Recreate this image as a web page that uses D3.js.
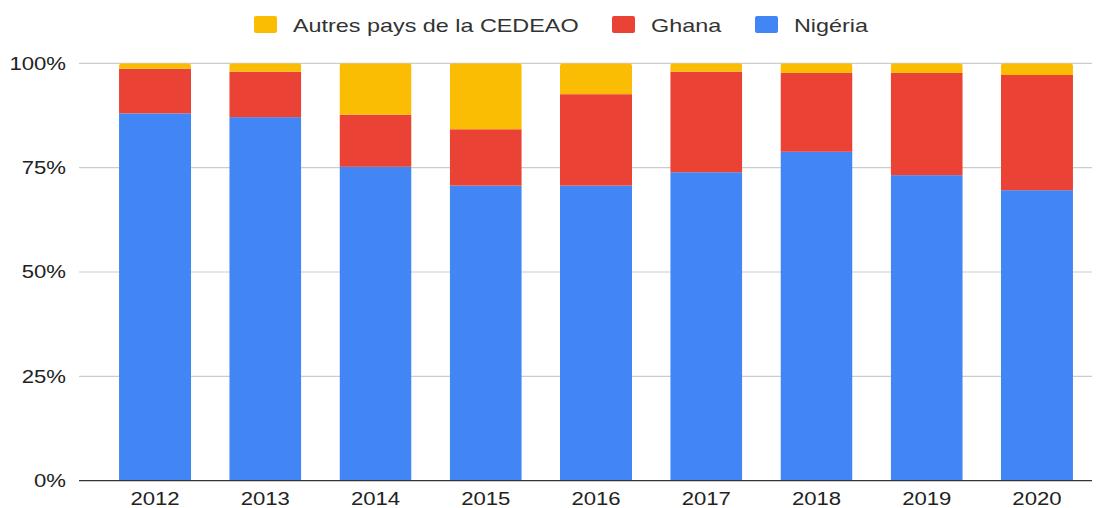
<!DOCTYPE html>
<html><head><meta charset="utf-8">
<script src="https://cdn.jsdelivr.net/npm/d3@7"></script>
<style>body{margin:0;background:#fff}svg{display:block}</style>
</head><body>
<svg id="c" width="1098" height="508"></svg>
<script>
const years = ["2012","2013","2014","2015","2016","2017","2018","2019","2020"];
const nigeria = [88.0, 87.1, 75.2, 70.7, 70.7, 73.9, 78.8, 73.2, 69.6];
const ghana   = [10.7, 10.9, 12.5, 13.5, 21.9, 24.1, 18.9, 24.5, 27.6];
const autres  = [1.3, 2.0, 12.3, 15.8, 7.4, 2.0, 2.3, 2.3, 2.8];
const seriesNames = ["Nigéria", "Ghana", "Autres pays de la CEDEAO"];
const legendOrder = ["Autres pays de la CEDEAO", "Ghana", "Nigéria"];
const colors = {"Nigéria":"#4285f4","Ghana":"#ea4335","Autres pays de la CEDEAO":"#fbbc04"};
const yTicks = [0, 0.25, 0.5, 0.75, 1];

const SX = 1.23;
const svg = d3.select("#c");
const font = "'Liberation Sans', Arial, sans-serif";

const x = d3.scaleBand().domain(years).range([99.9, 1092.1]).paddingInner(0.347).paddingOuter(0.1735);
const y = d3.scaleLinear().domain([0, 1]).range([480.7, 63.3]);

// gridlines
svg.append("g").selectAll("line").data(yTicks.filter(d => d > 0)).join("line")
  .attr("x1", 79).attr("x2", 1092)
  .attr("y1", d => y(d)).attr("y2", d => y(d))
  .attr("stroke", "#cccccc").attr("stroke-width", 1.2);

// y labels
svg.append("g").selectAll("text").data(yTicks).join("text")
  .attr("transform", d => `translate(66,${y(d)}) scale(${SX},1)`)
  .attr("text-anchor", "end").attr("dy", "0.35em")
  .attr("font-family", font).attr("font-size", 18).attr("fill", "#222")
  .text(d => d3.format(".0%")(d));

// stack
const rows = years.map((yr, i) => ({year: yr, "Nigéria": nigeria[i]/100, "Ghana": ghana[i]/100, "Autres pays de la CEDEAO": autres[i]/100}));
const stack = d3.stack().keys(seriesNames)(rows);

const defs = svg.append("defs");
years.forEach((yr, i) => {
  const total = nigeria[i] + ghana[i] + autres[i];
  defs.append("clipPath").attr("id", "clip" + i)
    .append("rect")
    .attr("x", x(yr)).attr("width", x.bandwidth())
    .attr("y", y(total/100)).attr("height", y(0) - y(total/100) + 10)
    .attr("rx", 3).attr("ry", 3);
});

stack.forEach(s => {
  svg.append("g").selectAll("rect").data(s).join("rect")
    .attr("clip-path", (d, i) => `url(#clip${i})`)
    .attr("x", d => x(d.data.year)).attr("width", x.bandwidth())
    .attr("y", d => y(d[1])).attr("height", d => y(d[0]) - y(d[1]))
    .attr("fill", colors[s.key]);
});

// baseline
svg.append("line").attr("x1", 79).attr("x2", 1092).attr("y1", y(0)).attr("y2", y(0))
  .attr("stroke", "#333").attr("stroke-width", 1.3);

// x labels
svg.append("g").selectAll("text").data(years).join("text")
  .attr("transform", d => `translate(${x(d) + x.bandwidth()/2},504.5) scale(${SX},1)`)
  .attr("text-anchor", "middle")
  .attr("font-family", font).attr("font-size", 18).attr("fill", "#222")
  .text(d => d);

// legend
const legendX = [254, 612, 755];
const lg = svg.append("g").selectAll("g").data(legendOrder).join("g")
  .attr("transform", (d, i) => `translate(${legendX[i]},0)`);
lg.append("rect").attr("x", 0).attr("y", 16).attr("width", 23).attr("height", 17).attr("rx", 2)
  .attr("fill", d => colors[d]);
lg.append("text")
  .attr("transform", `translate(39,31.5) scale(${SX},1)`)
  .attr("font-family", font).attr("font-size", 19).attr("fill", "#333")
  .text(d => d);
</script>
</body></html>
